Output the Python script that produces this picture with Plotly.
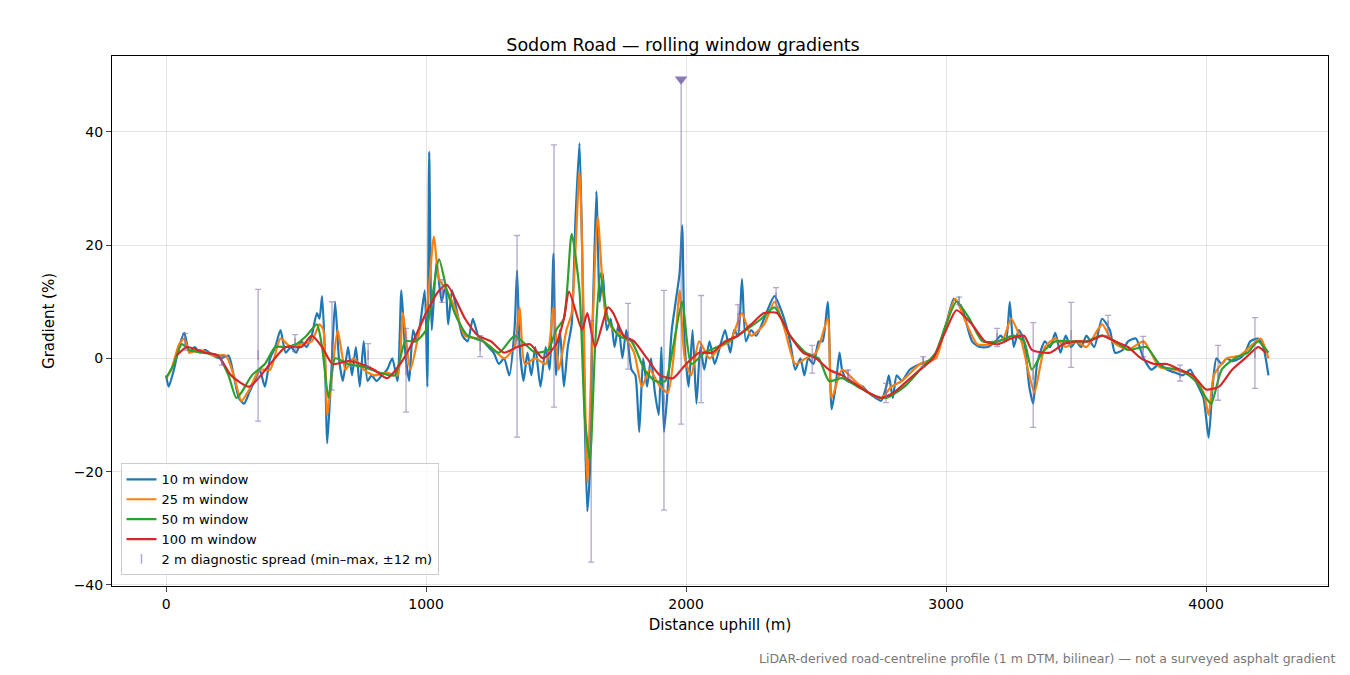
import plotly.graph_objects as go

# 10 m window
w10_x = [0, 10, 30, 50, 70, 90, 110, 130, 150, 180, 210, 240, 260, 280, 300, 320, 340, 360, 380, 400,
         420, 440, 460, 480, 500, 520, 540, 560, 580, 590, 600, 610, 620, 635, 650, 665, 680, 700, 715, 730,
         745, 760, 775, 790, 810, 830, 850, 870, 890, 905, 920, 935, 950, 965, 980, 995, 1005, 1012, 1022, 1040,
         1060, 1075, 1085, 1100, 1120, 1140, 1160, 1180, 1200, 1220, 1240, 1260, 1280, 1300, 1320, 1340, 1350, 1360, 1375, 1390,
         1405, 1420, 1440, 1460, 1475, 1490, 1500, 1515, 1530, 1545, 1560, 1575, 1590, 1600, 1610, 1620, 1630, 1640, 1655, 1668,
         1680, 1695, 1710, 1725, 1740, 1755, 1770, 1790, 1805, 1820, 1835, 1850, 1865, 1880, 1895, 1905, 1915, 1930, 1945, 1960,
         1975, 1985, 1995, 2010, 2025, 2040, 2055, 2070, 2090, 2110, 2130, 2150, 2170, 2185, 2200, 2215, 2230, 2250, 2270, 2300,
         2340, 2370, 2400, 2420, 2440, 2455, 2470, 2490, 2510, 2525, 2545, 2560, 2575, 2590, 2600, 2620, 2650, 2680, 2700, 2730,
         2750, 2770, 2780, 2795, 2810, 2830, 2860, 2900, 2950, 3000, 3030, 3060, 3100, 3130, 3160, 3190, 3210, 3230, 3245, 3260,
         3280, 3300, 3320, 3335, 3350, 3380, 3400, 3420, 3440, 3460, 3480, 3500, 3520, 3540, 3570, 3600, 3630, 3650, 3680, 3700,
         3730, 3760, 3790, 3820, 3850, 3880, 3910, 3940, 3960, 3990, 4010, 4025, 4040, 4060, 4080, 4100, 4130, 4150, 4170, 4200,
         4220, 4240]
w10_y = [-3, -5, -2, 2, 4.5, 1, 2, 1, 1.5, 0.5, 0, 0.5, -3, -7, -8, -6, -4, -2, -5, 0,
         2, 5, 1, 2, 1, 3, 2, 4, 8, 7, 11, 2, -15, -3, 10, 0, -4, 2, -3, 2,
         -5, 3, -4, -3, -4, -3, -2, 0, -4, 12, 1, -4, 5, 3, 7, 12, -5, 36.5, 5, 17,
         10, 13, 6, 12, 8, 4, 3, 7, 4, 3, 2, 1, -1, 0, -3, 5, 15.5, 2, -4, 1,
         -3, 2, -5, 2, -2, 18.5, -3, 5, -5, 2, 6, 25, 38, 20, -10, -27, -20, 5, 29.5, 10,
         15, 5, 7, 2, 6, 0, 5, -2, -3, -13, 0, -5, 0, -6, -10, 2, -13, -5, 5, 10,
         15, 23.5, 2, -5, 5, -8, 2, -2, 3, -1, 2, 5, 1, 5, 4, 14, 3, 5, 4, 7,
         11, 8, 3, -2, 0, -3, 0, -1, 3, 3, 10, -9, -5, 1, -2, -4, -4.5, -5, -6, -7,
         -7.5, -5, -3, -7, -3, -4, -2, -1, 0, 6, 10.5, 9, 3, 2, 2, 3, 4, 3, 10, 2,
         5, 3, -5, -8, -1, 3, 2, 4.5, 1, 4, 2, 3, 2, 4, 2, 7, 5, 1, 1.5, 3,
         3.5, 0, -2, -1, -2, -2.5, -3, -2, -4, -7, -14, -5, 0, -1, 0, -0.5, 0, 1, 3, 3.5,
         2, -3]

# 25 m window
w25_x = [0, 20, 50, 70, 90, 130, 180, 230, 260, 290, 320, 360, 400, 440, 480, 520, 560, 590, 605, 620,
         640, 660, 690, 720, 760, 800, 850, 890, 910, 940, 980, 1000, 1030, 1050, 1080, 1110, 1150, 1200, 1250, 1300,
         1340, 1360, 1380, 1420, 1460, 1490, 1510, 1540, 1560, 1590, 1605, 1620, 1640, 1660, 1690, 1720, 1760, 1800, 1830, 1860,
         1900, 1930, 1960, 1975, 1995, 2020, 2050, 2090, 2130, 2170, 2215, 2250, 2300, 2340, 2380, 2420, 2460, 2500, 2545, 2560,
         2600, 2650, 2700, 2750, 2790, 2830, 2900, 2960, 3000, 3035, 3080, 3120, 3170, 3220, 3250, 3290, 3320, 3340, 3380, 3420,
         3460, 3500, 3540, 3600, 3640, 3700, 3760, 3820, 3880, 3940, 3990, 4010, 4030, 4080, 4130, 4180, 4210, 4240]
w25_y = [-3.5, -2, 2.5, 3.5, 1, 1.5, 0.5, 0.5, -3, -7.5, -5.5, -2, -2, 3.5, 2, 2.5, 3, 6, 5, -10,
         -2, 5, -2, 0, -2, -3, -2.5, -3, 8, -2, 6, 8, 21.5, 14, 12, 9, 4, 3.5, 2, 0,
         2, 9, -1, 0, -1, 9, -2, 5, 8, 33, 10, -22, 5, 25, 8, 5, 4, 1, -5, -2,
         -5, -6, 4, 12, 0, -3, 3, 0, 2, 3, 8, 4, 6, 10, 5, -1, 0, 1, 7, -7,
         -2, -4, -6, -7, -5, -4, -1, 0, 6, 10.5, 6, 2.5, 2.5, 3.5, 7, 3, -3, -6, 2, 3.5,
         2, 3, 2, 6, 3, 1.5, 3, -1.5, -2, -3, -6, -10, -3, 0, 0.5, 2.5, 3.5, 0]

# 50 m window
w50_x = [0, 30, 60, 90, 140, 200, 240, 270, 290, 330, 380, 420, 460, 500, 540, 580, 600, 625, 650, 700,
         760, 820, 880, 920, 960, 1000, 1050, 1080, 1120, 1160, 1220, 1280, 1340, 1370, 1420, 1470, 1500, 1530, 1560, 1590,
         1610, 1630, 1650, 1670, 1700, 1740, 1790, 1840, 1880, 1920, 1950, 1985, 2020, 2070, 2120, 2180, 2230, 2290, 2340, 2400,
         2460, 2510, 2550, 2600, 2660, 2720, 2770, 2840, 2900, 2960, 3000, 3040, 3090, 3140, 3200, 3260, 3300, 3330, 3370, 3420,
         3480, 3540, 3600, 3650, 3700, 3770, 3830, 3900, 3960, 4000, 4020, 4060, 4110, 4160, 4200, 4240]
w50_y = [-3.5, -1, 2.5, 1.5, 1, 0.5, -3, -7, -6, -3, -1, 2, 2, 2.5, 4, 6, 2, -7, 0, -1,
         -1.5, -2.5, -3, 3, 3, 5, 17.5, 12, 7, 4, 3, 1, 4, 3, 1, 1.5, 5, 7, 22, 12,
         -10, -18, 2, 15, 7, 4, 3, -2, -4, -4, 2, 10, -1, 1, 2, 3.5, 5, 7, 9, 4,
         1, 0, -4, -3.5, -5, -6.5, -7, -5, -2, 1, 6, 10, 7, 3, 3, 4, 3, -2, 1, 3,
         3, 3, 4, 3, 1.5, 2, -1.5, -2, -4, -7, -8, -2, 0, 1, 3, 1]

# 100 m window
w100_x = [40, 80, 150, 200, 250, 320, 400, 460, 520, 560, 600, 640, 700, 750, 800, 850, 900, 950, 1000, 1050,
          1080, 1150, 1200, 1250, 1300, 1350, 1400, 1450, 1500, 1530, 1550, 1600, 1620, 1650, 1700, 1720, 1760, 1800, 1850, 1900,
          1950, 2000, 2050, 2100, 2150, 2200, 2250, 2300, 2350, 2400, 2450, 2500, 2550, 2600, 2650, 2700, 2750, 2800, 2850, 2900,
          2950, 3000, 3040, 3100, 3150, 3200, 3250, 3300, 3330, 3400, 3450, 3500, 3550, 3600, 3650, 3700, 3750, 3800, 3850, 3900,
          3950, 4000, 4050, 4100, 4150, 4200, 4230]
w100_y = [0.5, 2, 1, 0.5, -3, -5, -1, 2, 2, 4, 2, -1, -0.5, -1, -2, -3.5, -1, 3, 8, 12,
          13, 7, 4, 3, 1, 2, 2.5, 0, 2.5, 7, 11.8, 5, 8, 2, 9, 8, 4, 3, 0, -3,
          -3.5, -1, 1, 1, 3, 4, 6, 8, 8, 4, 1, 0, -2, -3, -4.5, -6, -7, -6, -4, -2,
          0, 5, 8.5, 6, 3, 2.5, 3.5, 4, 1.5, 1, 2.5, 3, 3, 4, 3, 2, 0, -1, -1, -2,
          -3, -5.5, -5, -2, 0, 2, 1]

# 2 m diagnostic spread
spread_x = [73, 215, 354, 496, 638, 777, 923, 1062, 1208, 1350, 1492, 1635, 1777, 1915, 1981, 2058, 2200, 2346,
            2485, 2623, 2769, 2912, 3050, 3196, 3335, 3481, 3623, 3758, 3900, 4046, 4188]
spread_max = [4.4, 0.5, 12.2, 4.2, 10, 2.6, 5.3, 13.9, 4, 21.7, 37.7, 6.7, 9.7, 12, 49, 11.1, 9.5, 12.5,
              2.3, -2.1, -4.4, 0.3, 10.8, 5.3, 6.3, 9.9, 7.6, 3.9, -1.2, 2.3, 7.2]
spread_min = [1.4, -1.2, -11.1, 1.2, -5.6, -1.4, -9.5, 9.9, 0.3, -13.9, -8.6, -36, -1.9, -26.8, -11.6, -7.8, 4.9, 9,
              -2.6, -3.5, -7.8, -1.5, 9.5, 2.1, -12.2, -1.6, 4, 0.3, -4, -7.4, -5.3]
y_top = 53.4

spread_col = "rgba(128,108,170,0.6)"
mid = [(a + b) / 2 for a, b in zip(spread_max, spread_min)]
upper = [min(a, y_top) - m for a, m in zip(spread_max, mid)]
lower = [m - b for m, b in zip(mid, spread_min)]

fig = go.Figure()
for xs, ys, name, col in [(w10_x, w10_y, "10 m window", "#1f77b4"),
                          (w25_x, w25_y, "25 m window", "#ff7f0e"),
                          (w50_x, w50_y, "50 m window", "#2ca02c"),
                          (w100_x, w100_y, "100 m window", "#d62728")]:
    fig.add_trace(go.Scatter(x=xs, y=ys, mode="lines", name=name,
                             line=dict(color=col, width=2.2, shape="spline", smoothing=0.6)))

fig.add_trace(go.Scatter(x=spread_x, y=mid, mode="markers", name="2 m diagnostic spread (min–max, ±12 m)",
                         marker=dict(size=7, symbol="line-ns", color=spread_col, line=dict(width=1.5, color=spread_col)),
                         error_y=dict(type="data", symmetric=False, array=upper, arrayminus=lower,
                                      color=spread_col, thickness=1.3, width=3)))
clip_x = [x for x, a in zip(spread_x, spread_max) if a > y_top - 5]
fig.add_trace(go.Scatter(x=clip_x, y=[49.3] * len(clip_x), mode="markers", showlegend=False,
                         marker=dict(symbol="triangle-down", size=11, color="rgba(128,108,170,0.9)")))

fig.update_layout(
    width=1350, height=675, plot_bgcolor="white", paper_bgcolor="white",
    font=dict(family="DejaVu Sans", size=14, color="black"),
    title=dict(text="Sodom Road — rolling window gradients", x=0.5, y=0.955, font=dict(size=17.5)),
    margin=dict(l=104, r=30, t=48, b=97),
    legend=dict(x=0.007, y=0.02, xanchor="left", yanchor="bottom", bordercolor="#cccccc", borderwidth=1,
                bgcolor="rgba(255,255,255,0.8)", font=dict(size=13)),
    annotations=[dict(text="LiDAR-derived road-centreline profile (1 m DTM, bilinear) — not a surveyed asphalt gradient",
                      xref="paper", yref="paper", x=1.007, y=-0.155, xanchor="right", showarrow=False,
                      font=dict(size=12.5, color="#777777"))],
)
fig.update_xaxes(title_text="Distance uphill (m)", title_font=dict(size=15), title_standoff=8,
                 range=[-208, 4469], tickvals=[0, 1000, 2000, 3000, 4000],
                 showgrid=True, gridcolor="rgba(0,0,0,0.1)", showline=True, linecolor="black", mirror=True,
                 ticks="outside", zeroline=False)
fig.update_yaxes(title_text="Gradient (%)", title_font=dict(size=15), range=[-40.2, y_top],
                 tickvals=[-40, -20, 0, 20, 40], ticktext=["−40", "−20", "0", "20", "40"],
                 showgrid=True, gridcolor="rgba(0,0,0,0.1)", showline=True, linecolor="black", mirror=True,
                 ticks="outside", zeroline=False)

fig.write_html("out.html")
